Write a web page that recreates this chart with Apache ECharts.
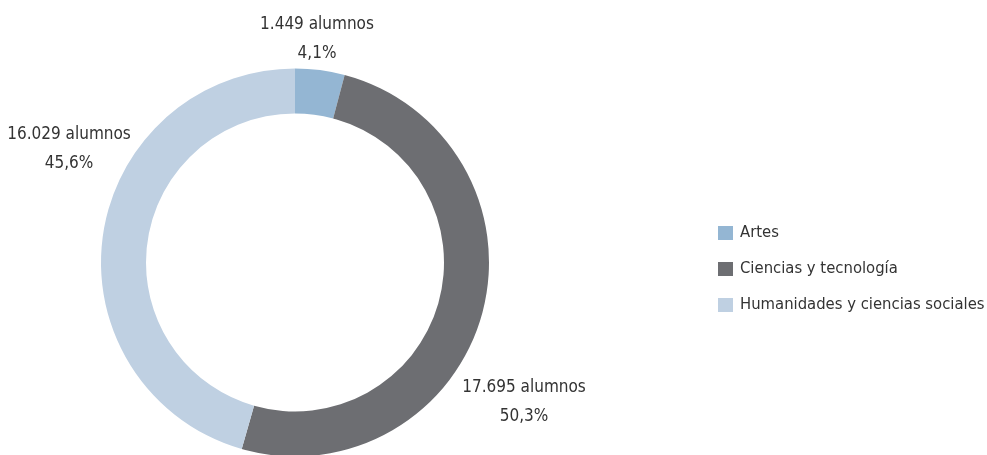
<!DOCTYPE html>
<html>
<head>
<meta charset="utf-8">
<script src="https://cdn.jsdelivr.net/npm/echarts@6/dist/echarts.min.js"></script>
<style>
html,body{margin:0;padding:0;background:#fff;}
#chart{width:987px;height:455px;}
</style>
</head>
<body>
<div id="chart"></div>
<script>
const categories = ['Artes', 'Ciencias y tecnología', 'Humanidades y ciencias sociales'];
const students = [1449, 17695, 16029];
const colors = ['#94b6d3', '#6d6e72', '#bfd0e2'];
// label block centres (px), layout only
const labelPos = [[317, 39], [524, 402], [69, 149]];

const total = students.reduce((a, b) => a + b, 0);
const fmtInt = v => String(v).replace(/\B(?=(\d{3})+(?!\d))/g, '.');
const fmtPct = v => (v / total * 100).toFixed(1).replace('.', ',');

const FONT = "'DejaVu Sans Condensed', 'Liberation Sans Narrow', sans-serif";

const chart = echarts.init(document.getElementById('chart'));
chart.setOption({
  animation: false,
  color: colors,
  legend: {
    orient: 'vertical',
    left: 713,
    top: 219,
    itemWidth: 15,
    itemHeight: 14,
    itemGap: 18,
    icon: 'rect',
    textStyle: { fontFamily: FONT, fontSize: 16.5, color: '#333', lineHeight: 18, padding: [0, 0, 0, 2] },
    data: categories
  },
  series: [{
    type: 'pie',
    center: [295, 262.5],
    radius: [149, 194],
    startAngle: 90,
    clockwise: true,
    avoidLabelOverlap: false,
    itemStyle: { borderWidth: 0 },
    label: {
      show: true,
      position: 'outside',
      fontFamily: FONT,
      fontSize: 17,
      lineHeight: 29,
      color: '#333',
      align: 'center',
      formatter: p => fmtInt(p.value) + ' alumnos\n' + fmtPct(p.value) + '%'
    },
    labelLine: { show: false },
    labelLayout: p => ({
      x: labelPos[p.dataIndex][0],
      y: labelPos[p.dataIndex][1],
      align: 'center',
      verticalAlign: 'middle'
    }),
    emphasis: { disabled: true },
    data: categories.map((c, i) => ({ name: c, value: students[i] }))
  }]
});
</script>
</body>
</html>
